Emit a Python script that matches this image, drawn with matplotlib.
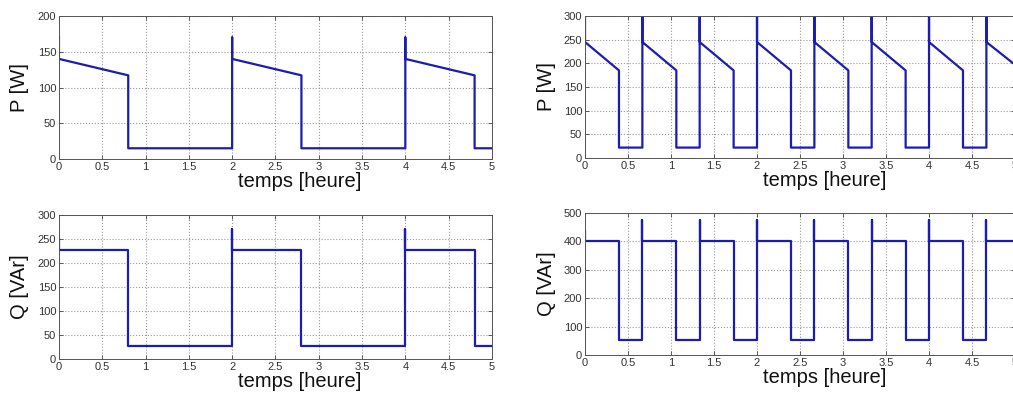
import matplotlib
matplotlib.use("Agg")
import matplotlib.pyplot as plt

# breakpoints of each waveform (time in hours)

# left column : cycle of 2 h
t_p_left = [0, 0, 0.8, 0.8, 2.0, 2.0, 2.0, 2.8, 2.8, 4.0, 4.0, 4.0, 4.8, 4.8, 5.0]
p_left = [170, 140, 117, 15, 15, 170, 140, 117, 15, 15, 170, 140, 117, 15, 15]

t_q_left = [0, 0, 0.8, 0.8, 2.0, 2.0, 2.0, 2.8, 2.8, 4.0, 4.0, 4.0, 4.8, 4.8, 5.0]
q_left = [250, 227, 227, 28, 28, 270, 227, 227, 28, 28, 270, 227, 227, 28, 28]

# right column : cycle of 2/3 h
t_right = [0, 0, 0.395, 0.395,
           0.667, 0.667, 0.667, 1.062, 1.062,
           1.333, 1.333, 1.333, 1.728, 1.728,
           2.0, 2.0, 2.0, 2.395, 2.395,
           2.667, 2.667, 2.667, 3.062, 3.062,
           3.333, 3.333, 3.333, 3.728, 3.728,
           4.0, 4.0, 4.0, 4.395, 4.395,
           4.667, 4.667, 4.667, 5.0]
p_right = [300, 245, 185, 22,
           22, 310, 245, 185, 22,
           22, 310, 245, 185, 22,
           22, 310, 245, 185, 22,
           22, 310, 245, 185, 22,
           22, 310, 245, 185, 22,
           22, 310, 245, 185, 22,
           22, 310, 245, 197]
q_right = [435, 400, 400, 52,
           52, 475, 400, 400, 52,
           52, 475, 400, 400, 52,
           52, 475, 400, 400, 52,
           52, 475, 400, 400, 52,
           52, 475, 400, 400, 52,
           52, 475, 400, 400, 52,
           52, 475, 400, 400]

x_ticks = [0, 0.5, 1, 1.5, 2, 2.5, 3, 3.5, 4, 4.5, 5]
x_ticklabels = ['0', '0.5', '1', '1.5', '2', '2.5', '3', '3.5', '4', '4.5', '5']

plt.rcParams['font.family'] = ['Liberation Sans', 'DejaVu Sans']

fig = plt.figure(figsize=(10.13, 3.98), dpi=100)

# axes boxes in figure fraction, measured on the reference
axes_info = [
    ([0.0582, 0.6005, 0.4274, 0.3593], t_p_left, p_left, [0, 50, 100, 150, 200], 'P [W]'),
    ([0.0582, 0.0980, 0.4274, 0.3618], t_q_left, q_left, [0, 50, 100, 150, 200, 250, 300], 'Q [VAr]'),
    ([0.5775, 0.6030, 0.4245, 0.3568], t_right, p_right, [0, 50, 100, 150, 200, 250, 300], 'P [W]'),
    ([0.5775, 0.1080, 0.4245, 0.3568], t_right, q_right, [0, 100, 200, 300, 400, 500], 'Q [VAr]'),
]

for rect, t, y, yticks, ylab in axes_info:
    ax = fig.add_axes(rect)
    ax.plot(t, y, color='#1c1cb0', lw=1.6)
    ax.set_xlim(0, 5)
    ax.set_ylim(yticks[0], yticks[-1])
    ax.set_xticks(x_ticks)
    ax.set_xticklabels(x_ticklabels)
    ax.set_yticks(yticks)
    ax.grid(True, linestyle=':', color='#999999', lw=0.8)
    ax.tick_params(direction='in', top=True, right=True, length=3, width=0.6,
                   labelsize=8, labelcolor='#333333', color='#444444', pad=2)
    for sp in ax.spines.values():
        sp.set_color('#555555')
        sp.set_linewidth(0.7)
    ax.set_xlabel('temps [heure]', fontsize=14.5, color='#111111')
    ax.xaxis.set_label_coords(0.557, -0.09)
    ax.set_ylabel(ylab, fontsize=14.5, color='#111111')
    ax.yaxis.label.set_va('center')
    ax.yaxis.set_label_coords(-0.09, 0.5)

plt.savefig('out.png', dpi=100)
